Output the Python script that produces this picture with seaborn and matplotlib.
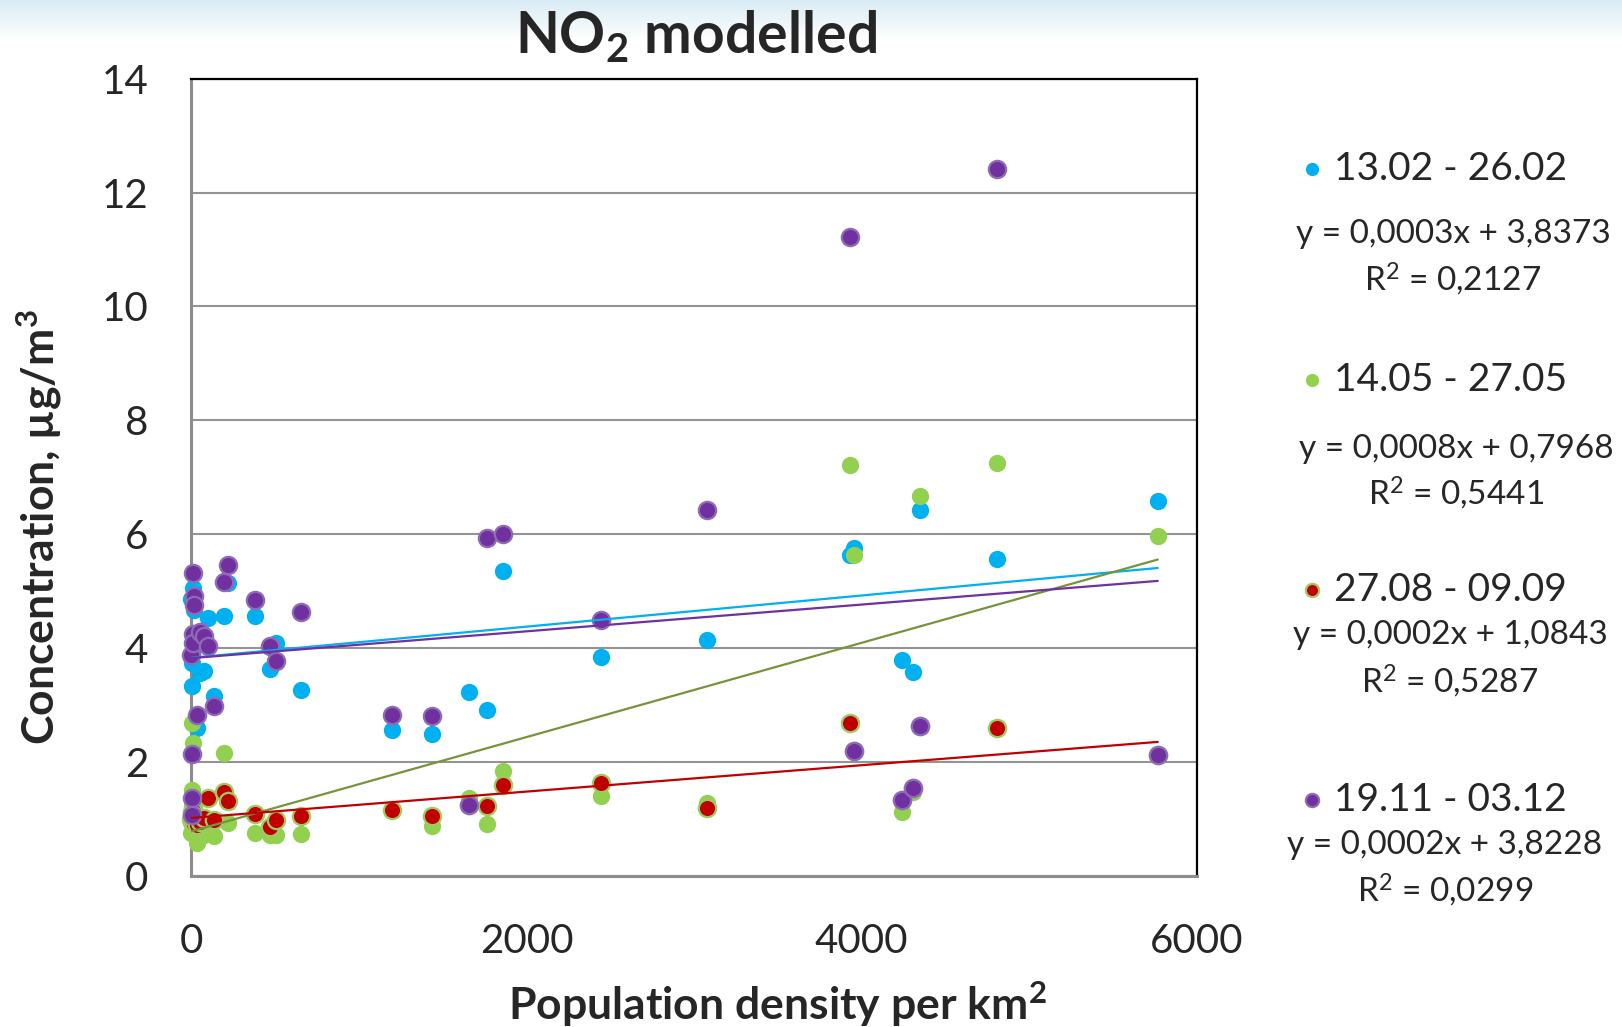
import numpy as np
import pandas as pd
import matplotlib
matplotlib.use("Agg")
import matplotlib.pyplot as plt
import seaborn as sns
from matplotlib.lines import Line2D

# ---------------- data ----------------
density = [0, 2, 3, 5, 8, 10, 11, 14, 16,
           33, 51, 77, 101, 135, 196, 218, 380, 467, 507, 652,
           1195, 1434, 1657, 1766, 1861, 2443, 3075, 3930, 3956, 4239, 4308, 4346, 4806, 5767]

feb = [4.87, 3.75, 3.94, 3.34, 4.20, 4.05, 5.05, 4.68, 4.80,
       2.61, 3.56, 3.61, 4.54, 3.17, 4.56, 5.15, 4.57, 3.64, 4.09, 3.26,
       2.57, 2.50, 3.24, 2.92, 5.36, 3.84, 4.15, 5.64, 5.76, 3.80, 3.58, 6.43, 5.56, 6.59]
may = [0.75, 2.69, 1.51, 0.95, 1.10, 0.85, 2.33, 1.30, 0.80,
       0.59, 0.78, 0.72, 0.85, 0.71, 2.16, 0.94, 0.75, 0.72, 0.72, 0.74,
       1.17, 0.88, 1.37, 0.91, 1.85, 1.41, 1.29, 7.22, 5.63, 1.13, 1.47, 6.68, 7.26, 5.98]
sep = [1.00, 1.12, 1.05, 0.95, 1.22, 1.15, 1.08, 0.92, 1.02,
       0.89, 0.95, 1.03, 1.38, 0.99, 1.47, 1.32, 1.09, 0.87, 0.99, 1.06,
       1.16, 1.06, 1.25, 1.23, 1.60, 1.63, 1.19, 2.69, 2.19, 1.34, 1.54, 2.64, 2.60, 2.12]
dec = [3.89, 2.14, 1.37, 1.07, 4.26, 4.09, 5.33, 4.92, 4.76,
       2.83, 4.29, 4.22, 4.04, 2.99, 5.16, 5.46, 4.85, 4.04, 3.78, 4.64,
       2.83, 2.82, 1.25, 5.93, 6.01, 4.50, 6.42, 11.22, 2.19, 1.34, 1.54, 2.64, 12.42, 2.12]

series_names = ["13.02 - 26.02", "14.05 - 27.05", "27.08 - 09.09", "19.11 - 03.12"]
equations = ["y = 0,0003x + 3,8373", "y = 0,0008x + 0,7968",
             "y = 0,0002x + 1,0843", "y = 0,0002x + 3,8228"]
r_squared = ["R$^2$ = 0,2127", "R$^2$ = 0,5441", "R$^2$ = 0,5287", "R$^2$ = 0,0299"]

x_ticks = [0, 2000, 4000, 6000]
y_ticks = [0, 2, 4, 6, 8, 10, 12, 14]

# ---------------- styling ----------------
sns.set_style("white")
plt.rcParams['font.family'] = ['Lato', 'DejaVu Sans']
plt.rcParams['mathtext.fontset'] = 'custom'
plt.rcParams['mathtext.rm'] = 'Lato'
plt.rcParams['mathtext.bf'] = 'Lato:bold'
plt.rcParams['mathtext.default'] = 'regular'

fill_colors = ['#00B0F0', '#92D050', '#C00000', '#7030A0']
edge_colors = ['#00B0F0', '#92D050', '#9CCB5E', '#8E6BB5']
edge_widths = [0, 0, 1.6, 1.6]
line_colors = ['#00B0F0', '#77933C', '#C00000', '#7030A0']
values = [feb, may, sep, dec]

W, H = 1622, 1027
fig = plt.figure(figsize=(W / 100, H / 100), dpi=100)

# light-blue gradient band at the top of the slide
bg = fig.add_axes([0, 0, 1, 1], zorder=-10)
grad = np.ones((H, 1, 3))
top = np.array([0.85, 0.925, 0.96])
n = 40
for i in range(n):
    t = i / n
    grad[i, 0, :] = top * (1 - t) + np.array([1, 1, 1]) * t
bg.imshow(grad, aspect='auto', extent=[0, 1, 0, 1])
bg.axis('off')

ax = fig.add_axes([191.4 / W, 1 - 876.2 / H, (1196.8 - 191.4) / W, (876.2 - 78.6) / H])
ax.set_facecolor('white')

for i in range(4):
    sns.scatterplot(x=density, y=values[i], color=fill_colors[i], s=155,
                    edgecolor=edge_colors[i], linewidth=edge_widths[i],
                    ax=ax, zorder=3 + i, clip_on=False, legend=False)

for i in range(4):
    sns.regplot(x=np.array(density, dtype=float), y=np.array(values[i]), scatter=False,
                ci=None, truncate=True, color=line_colors[i],
                line_kws=dict(lw=1.6, zorder=8 + i), ax=ax)

ax.set_xlim(0, 6000)
ax.set_ylim(0, 14)
ax.set_xticks(x_ticks)
ax.set_yticks(y_ticks)
ax.set_xlabel("")
ax.set_ylabel("")
ax.yaxis.grid(True, color='#939393', lw=1.5, zorder=0)
ax.set_axisbelow(True)

for s in ['left', 'bottom']:
    ax.spines[s].set_color('#8C8C8C')
    ax.spines[s].set_linewidth(2.2)
for s in ['top', 'right']:
    ax.spines[s].set_color('black')
    ax.spines[s].set_linewidth(1.6)

ax.tick_params(axis='y', length=11, width=1.4, color='#939393', pad=20, labelsize=29)
ax.tick_params(axis='x', length=9, width=1.4, color='#939393', pad=25, labelsize=29)

# titles and axis labels
fig.text(696 / W, 1 - 36 / H, "NO$_2$ modelled", ha='center', va='center',
         fontsize=41, fontweight='bold')
fig.text(777 / W, 1 - 1004 / H, "Population density per km$^2$", ha='center', va='center',
         fontsize=32, fontweight='bold')
fig.text(39 / W, 1 - 527 / H, "Concentration, µg/m$^3$", ha='center', va='center',
         rotation=90, fontsize=32, fontweight='bold')

# legend with trend-line equations
marker_y = [168.6, 379.6, 589.6, 799.6]
eq_pos = [(1453, 233.8, 279.3), (1456, 449, 493.4), (1450, 635, 681.7), (1445, 845, 890.6)]
for i in range(4):
    fig.add_artist(Line2D([1311.6 / W], [1 - marker_y[i] / H], transform=fig.transFigure,
                          marker='o', markersize=9.5, markerfacecolor=fill_colors[i],
                          markeredgecolor=edge_colors[i],
                          markeredgewidth=edge_widths[i] if edge_widths[i] else 0,
                          linestyle='none'))
    fig.text(1334 / W, 1 - marker_y[i] / H, series_names[i], ha='left', va='center',
             fontsize=28)
    cx, ye, yr = eq_pos[i]
    fig.text(cx / W, 1 - ye / H, equations[i], ha='center', va='center', fontsize=24)
    fig.text(cx / W, 1 - yr / H, r_squared[i], ha='center', va='center', fontsize=24)

fig.savefig("out.png", dpi=100)
